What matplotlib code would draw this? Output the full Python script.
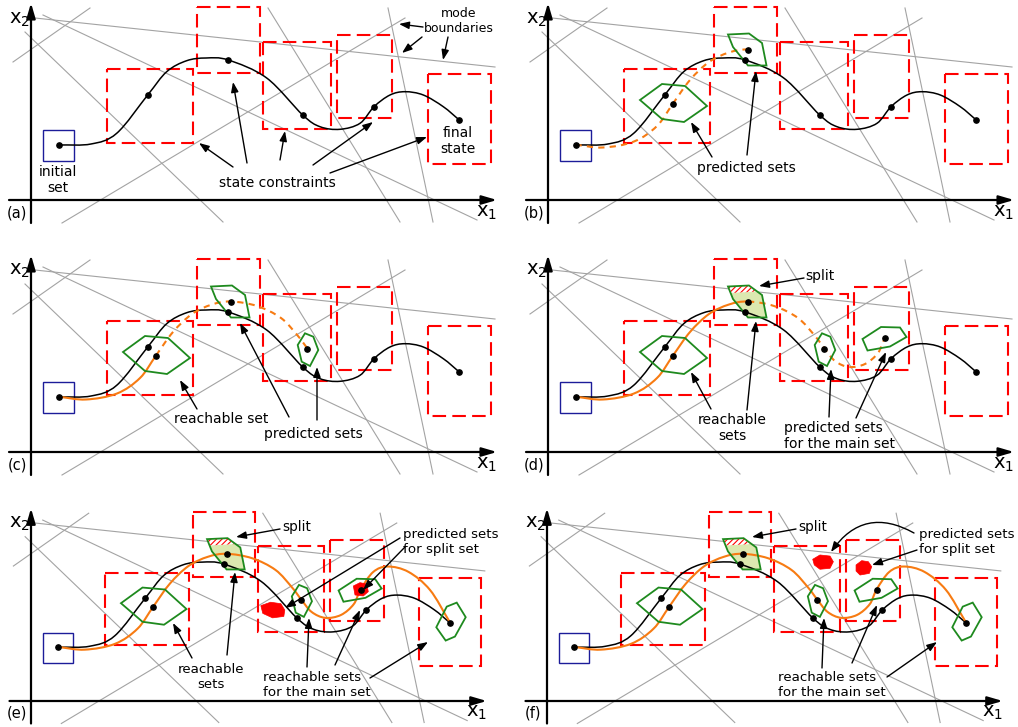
import numpy as np
import matplotlib
matplotlib.use("Agg")
import matplotlib.pyplot as plt
from matplotlib.path import Path
from matplotlib.patches import PathPatch, Polygon, Rectangle, FancyArrowPatch
from matplotlib.transforms import Affine2D

plt.rcParams['font.family'] = ['DejaVu Sans']
plt.rcParams['hatch.linewidth'] = 0.8

# colours
RED = '#ff0000'
GREEN = '#1e8a1e'
ORANGE = '#f77b12'
BLUE = '#1c1c99'
GRAY = '#a3a3a3'
FILL = '#dce8b0'

# ---- shared geometry, pixels relative to the axis origin of a panel (y up = negative) ----
# nominal trajectory (black) knots and its marked states
trajectory = [(27.7, -55), (60, -56), (85.7, -66.7), (116.7, -105), (135.7, -128.3),
              (155.7, -139.3), (175, -142), (197.3, -140), (235.7, -122), (271.7, -85),
              (289, -73.3), (309, -70.7), (329, -76.7), (343, -93.3), (359, -105),
              (374, -108.3), (392.3, -105), (412.3, -93.3), (428.3, -80)]
traj_dots = [(27.7, -55), (116.7, -105), (197.3, -140), (271.7, -85), (343, -93.3), (428.3, -80)]

# reachable / predicted trajectory (orange) knots
pred_path = [(27.5, -55.3), (55, -52.5), (86, -58.5), (109, -74), (125, -96.5),
             (142, -120), (161, -138), (181, -147.5), (200, -150.5), (226, -146),
             (250, -134), (267, -116), (276.5, -103.5), (287, -91), (301, -85),
             (317, -88), (330, -99), (337, -114), (350, -132), (365, -137.5),
             (386, -132), (408, -113.5), (428.3, -80.5)]
pred_dot_idx = [4, 8, 12, 17]

# mode boundaries (gray lines)
boundaries = [((4, -182), (464, -133)), ((12, -185), (446, 20)), ((-6, -168), (192, 22)),
              ((-18, -138), (59, -192)), ((31, 23), (374, -182)), ((237, -192), (369, 22)),
              ((357, -192), (402, 22))]

# state constraints (x0, y0, x1, y1)
constraints = [(76, -131, 162, -57), (166, -193, 229, -127), (232, -158, 300, -71),
               (306, -165, 361, -82), (397, -126, 460, -36)]
initial_set = (12, -70, 43, -39)

# set polygons
hex1 = [(92, -100), (114, -116), (137, -114), (159, -94), (136, -78), (114, -81)]
split_poly = [(180, -165.5), (201, -166.5), (214, -157), (218.5, -134.5), (200, -134.5), (185, -153)]
split_part = [(180, -165.5), (201, -166.5), (209.5, -160.5), (182.5, -159)]
hex3 = [(266.7, -107), (274, -118.7), (282.3, -115.3), (287.3, -102), (279, -86), (270.7, -90.3)]
hex4 = [(314.5, -113), (333, -125), (352, -124.5), (358.5, -115), (342, -105.5), (319.5, -101.5)]
hex5 = [(414.4, -75.4), (425.1, -96.5), (435.3, -100.6), (444.5, -85.7), (433.5, -65.9), (424, -61.8)]
split_pred_e = [[(235, -97.5), (245, -101), (255.5, -99.5), (259.5, -93), (258.5, -86.5), (247, -85), (237, -89.6)],
                [(329.6, -117.6), (336.4, -121), (343.3, -119.6), (344.9, -111.8), (339.8, -107.4), (331.3, -108.4)]]
split_pred_f = [[(271.7, -144.9), (279.1, -149.3), (289.4, -148.2), (292.8, -142.4), (289.4, -135.7), (279.1, -134.7), (273.3, -139.1)],
                [(316, -139.1), (321.8, -143.5), (328.6, -142.4), (332, -137.3), (329.6, -130.5), (320.1, -128.8), (316, -132.9)]]

# panel origin (image px) and scale
panels = {'a': (31, 200, 1.0), 'b': (548, 200, 1.0), 'c': (31, 452, 1.0),
          'd': (548, 452, 1.0), 'e': (31, 701, 0.978), 'f': (547, 701, 0.978)}

# annotations per panel: texts (x, y, text, ha, size) and arrows (tail -> tip), image px
texts = {
    'a': [(58, 180, 'initial\nset', 'center', 10), (277, 183, 'state constraints', 'center', 10),
          (458, 141, 'final\nstate', 'center', 10), (459, 21, 'mode\nboundaries', 'center', 9)],
    'b': [(746, 168, 'predicted sets', 'center', 10)],
    'c': [(221, 419, 'reachable set', 'center', 10), (313, 434, 'predicted sets', 'center', 10)],
    'd': [(820, 276, 'split', 'center', 10), (732, 428, 'reachable\nsets', 'center', 10),
          (784, 436, 'predicted sets\nfor the main set', 'left', 10)],
    'e': [(297, 527, 'split', 'center', 9.8), (403, 542, 'predicted sets\nfor split set', 'left', 9.6),
          (211, 677, 'reachable\nsets', 'center', 9.6), (263, 685, 'reachable sets\nfor the main set', 'left', 9.6)],
    'f': [(813, 527, 'split', 'center', 9.8), (919, 542, 'predicted sets\nfor split set', 'left', 9.6),
          (778, 685, 'reachable sets\nfor the main set', 'left', 9.6)],
}
arrows = {
    'a': [(423, 27, 399, 24), (422, 37, 402, 53), (448, 37, 443, 60), (233, 167, 199, 143),
          (247, 163, 233, 82), (280, 160, 285, 131), (313, 165, 373, 122), (330, 173, 427, 137)],
    'b': [(712, 157, 691, 122), (747, 155, 756, 71)],
    'c': [(197, 409, 180, 380), (289, 417, 240, 323), (317, 420, 317, 367)],
    'd': [(804, 278, 759, 286), (711, 409, 691, 372), (747, 410, 756, 321),
          (829, 417, 831, 369), (856, 418, 886, 352)],
    'e': [(280, 529, 236, 537), (400, 538, 285, 608), (405, 547, 363, 590),
          (192, 658, 173, 623), (227, 655, 235, 572), (307, 667, 309, 618),
          (335, 665, 360, 610), (370, 678, 428, 642)],
    'f': [(796, 529, 752, 537), (917, 550, 872, 565), (822, 668, 824, 618),
          (852, 663, 877, 605), (887, 677, 937, 642)],
}


def curve_segments(pts):
    p = np.asarray(pts, float)
    ext = np.vstack([2 * p[0] - p[1], p, 2 * p[-1] - p[-2]])
    segs = []
    for i in range(1, len(ext) - 2):
        p0, p1, p2, p3 = ext[i - 1], ext[i], ext[i + 1], ext[i + 2]
        segs.append((p1, p1 + (p2 - p0) / 6, p2 - (p3 - p1) / 6, p2))
    return segs


def seg_path(segs, i, j):
    verts = [segs[i][0]]
    codes = [Path.MOVETO]
    for s in segs[i:j]:
        verts += [s[1], s[2], s[3]]
        codes += [Path.CURVE4] * 3
    return Path(verts, codes)


black_segs = curve_segments(trajectory)
orange_segs = curve_segments(pred_path)

fig = plt.figure(figsize=(10.18, 7.27), dpi=100)
ax = fig.add_axes([0, 0, 1, 1])
ax.set_xlim(0, 1018)
ax.set_ylim(727, 0)
ax.axis('off')


def arrow(x0, y0, x1, y1, lw=1.0, ms=10, hl=0.6, hw=0.22, rad=0.0):
    ax.add_patch(FancyArrowPatch((x0, y0), (x1, y1), arrowstyle=f'-|>,head_length={hl},head_width={hw}',
                                 mutation_scale=ms, lw=lw, color='k', shrinkA=0, shrinkB=0,
                                 connectionstyle=f'arc3,rad={rad}', zorder=8))


for key, (ox, oy, s) in panels.items():
    tr = Affine2D().scale(s).translate(ox, oy) + ax.transData

    def P(x, y):
        return ox + s * x, oy + s * y

    for p, q in boundaries:
        ax.plot([p[0], q[0]], [p[1], q[1]], color=GRAY, lw=0.8, transform=tr, zorder=1)
    for r in constraints:
        ax.add_patch(Rectangle((r[0], r[1]), r[2] - r[0], r[3] - r[1], fill=False, ec=RED,
                               lw=1.5, ls=(0, (6.5, 3)), transform=tr, zorder=2))
    x0, y0, x1, y1 = initial_set
    ax.add_patch(Rectangle((x0, y0), x1 - x0, y1 - y0, fill=False, ec=BLUE, lw=1.0,
                           transform=tr, zorder=3))

    # axes
    arrow(*P(0, 23), *P(0, -197), lw=1.6, ms=12, hl=0.75, hw=0.22)
    arrow(*P(-22, 0), *P(466, 0), lw=1.6, ms=12, hl=0.75, hw=0.22)
    ax.text(*P(-12, -181), r'$\mathregular{x_2}$', fontsize=14, ha='center', va='center', zorder=9)
    ax.text(*P(456, 12), r'$\mathregular{x_1}$', fontsize=14, ha='center', va='center', zorder=9)
    ax.text(*P(-14, 12.5), f'({key})', fontsize=10.5, ha='center', va='center', zorder=9)

    # sets
    polys = []
    if key in 'bcdef':
        polys += [hex1, split_poly]
    if key in 'cdef':
        polys.append(hex3)
    if key in 'def':
        polys.append(hex4)
        ax.add_patch(Polygon(split_poly, closed=True, fc=FILL, ec='none', transform=tr, zorder=3))
        ax.add_patch(Polygon(split_part, closed=True, fc='white', ec=RED, lw=0, hatch='//////',
                             transform=tr, zorder=3.2))
    if key in 'ef':
        polys.append(hex5)
    for pg in polys:
        ax.add_patch(Polygon(pg, closed=True, fill=False, ec=GREEN, lw=1.3, transform=tr, zorder=5))
    for pg in (split_pred_e if key == 'e' else split_pred_f if key == 'f' else []):
        ax.add_patch(Polygon(pg, closed=True, fc=RED, ec=RED, lw=0.5, transform=tr, zorder=6))

    # trajectories
    ax.add_patch(PathPatch(seg_path(black_segs, 0, len(black_segs)), fc='none', ec='k', lw=1.1,
                           transform=tr, zorder=4))
    solid_end = {'a': 0, 'b': 0, 'c': 4, 'd': 8, 'e': 22, 'f': 22}[key]
    dash_end = {'a': 0, 'b': 8, 'c': 12, 'd': 17, 'e': 22, 'f': 22}[key]
    if solid_end > 0:
        ax.add_patch(PathPatch(seg_path(orange_segs, 0, solid_end), fc='none', ec=ORANGE, lw=1.5,
                               transform=tr, zorder=4.5))
    if dash_end > solid_end:
        ax.add_patch(PathPatch(seg_path(orange_segs, solid_end, dash_end), fc='none', ec=ORANGE,
                               lw=1.5, ls=(0, (3, 2.5)), transform=tr, zorder=4.5))
    dots = list(traj_dots)
    dots += [pred_path[i] for i in pred_dot_idx if i <= dash_end and dash_end > 0]
    dx = [d[0] for d in dots]
    dy = [d[1] for d in dots]
    ax.plot(dx, dy, 'o', color='k', ms=3.8, transform=tr, zorder=7)

    # annotations
    for tx, ty, t, ha, fs in texts[key]:
        ax.text(tx, ty, t, fontsize=fs, ha=ha, va='center', multialignment=ha, zorder=9)
    for a in arrows[key]:
        arrow(*a)
    if key == 'f':
        arrow(914, 533, 831, 552, rad=0.45)

fig.savefig('out.png', dpi=100)
